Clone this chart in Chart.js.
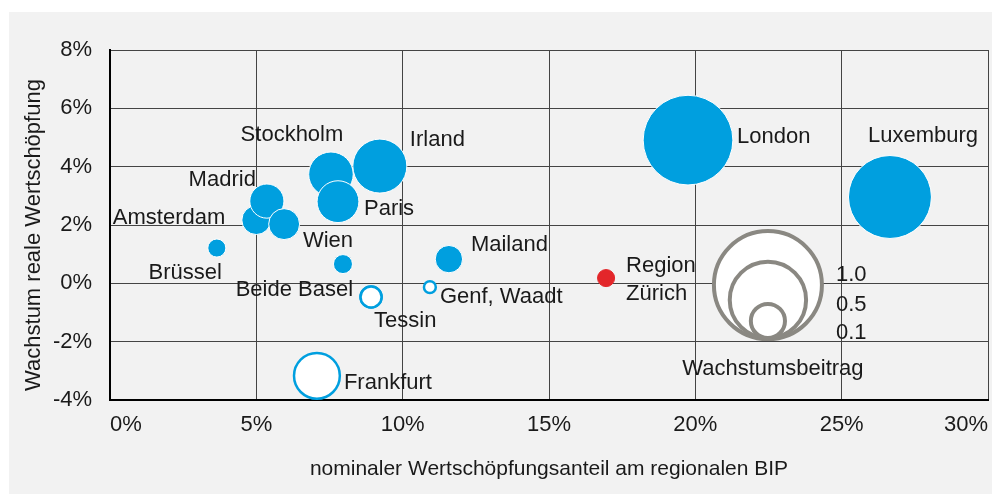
<!DOCTYPE html>
<html lang="de">
<head>
<meta charset="UTF-8">
<title>Wachstum und Wertschöpfungsanteil</title>
<script src="https://cdn.jsdelivr.net/npm/chart.js"></script>
<style>
  html, body { margin: 0; padding: 0; background: #fff; }
  #wrap { position: relative; width: 992px; height: 500px; }
</style>
</head>
<body>
<div id="wrap"><canvas id="chart" width="992" height="500"></canvas></div>
<script>
// Werte
const regionen = ['Brüssel', 'Amsterdam', 'Madrid', '', 'Stockholm', 'Paris', 'Irland', 'Wien',
  'Beide Basel', 'Tessin', 'Frankfurt', 'Genf, Waadt', 'Mailand', 'Region Zürich', 'London', 'Luxemburg'];
const anteil   = [3.65, 5.0, 5.36, 5.95, 7.55, 7.79, 9.22, 7.96, 8.92, 8.92, 7.07, 10.93, 11.58, 16.95, 19.75, 26.65];
const wachstum = [1.21, 2.17, 2.82, 2.03, 3.74, 2.80, 4.02, 0.66, -0.47, -0.47, -3.17, -0.13, 0.83, 0.18, 4.91, 2.96];
const beitrag  = [0.028, 0.072, 0.10, 0.082, 0.17, 0.15, 0.25, 0.031, 0.038, 0.038, 0.18, 0.012, 0.064, 0.025, 0.69, 0.59];
const gruppe   = ['voll', 'voll', 'voll', 'voll', 'voll', 'voll', 'voll', 'voll',
  'leer', 'leer', 'leer', 'leer', 'voll', 'zh', 'voll', 'voll'];

const legendeWerte = [1.0, 0.5, 0.1];
const legendeTexte = ['1.0', '0.5', '0.1'];
const legendeX = 22.48;
const legendeY = [-0.06, -0.57, -1.29];

const xTicks = [0, 5, 10, 15, 20, 25, 30];
const yTicks = [-4, -2, 0, 2, 4, 6, 8];

// Beschriftungen: Versatz zum Blasenmittelpunkt
const labelPos = {
  'Stockholm': { dx: -39, dy: -39, align: 'center' },
  'Irland': { dx: 30, dy: -26, align: 'left' },
  'Madrid': { dx: -11, dy: -21, align: 'right' },
  'Amsterdam': { dx: -31, dy: -2, align: 'right' },
  'Brüssel': { dx: 5, dy: 25, align: 'right' },
  'Paris': { dx: 26, dy: 7, align: 'left' },
  'Wien': { dx: -15, dy: -23, align: 'center' },
  'Beide Basel': { dx: -18, dy: -7, align: 'right' },
  'Tessin': { dx: 3, dy: 24, align: 'left' },
  'Genf, Waadt': { dx: 10, dy: 10, align: 'left' },
  'Mailand': { dx: 22, dy: -14, align: 'left' },
  'Region Zürich': { dx: 20, dy: 2, align: 'left', lines: ['Region', 'Zürich'] },
  'Frankfurt': { dx: 27, dy: 7, align: 'left' },
  'London': { dx: 49, dy: -3, align: 'left' },
  'Luxemburg': { dx: 33, dy: -61, align: 'center' },
  '1.0': { dx: 68, dy: -10, align: 'left' },
  '0.5': { dx: 68, dy: 5, align: 'left' },
  '0.1': { dx: 68, dy: 12, align: 'left' }
};

const FONT = "'Liberation Sans', Arial, Helvetica, sans-serif";
const BLAU = '#009fdf';
const ROT = '#e3262a';
const GRAU = '#8a8882';
const radius = v => 54 * Math.sqrt(v);

function punkte(g) {
  const out = [];
  regionen.forEach((name, i) => {
    if (gruppe[i] === g) out.push({ x: anteil[i], y: wachstum[i], r: radius(beitrag[i]), name: name });
  });
  return out;
}

const legendePunkte = legendeWerte.map((v, i) => ({ x: legendeX, y: legendeY[i], r: radius(v), name: legendeTexte[i] }));

const panel = {
  id: 'panel',
  beforeDraw(chart) {
    const ctx = chart.ctx;
    ctx.save();
    ctx.fillStyle = '#fff';
    ctx.fillRect(0, 0, chart.width, chart.height);
    ctx.fillStyle = '#f2f2f2';
    ctx.fillRect(9, 12, chart.width - 9, 482);
    // y-Achsentitel, etwas unter der Mitte der Achse
    ctx.translate(34, 235);
    ctx.rotate(-Math.PI / 2);
    ctx.font = '22px ' + FONT;
    ctx.fillStyle = '#1a1a1a';
    ctx.textAlign = 'center';
    ctx.textBaseline = 'middle';
    ctx.fillText('Wachstum reale Wertschöpfung', 0, 0);
    ctx.restore();
  }
};

const beschriftung = {
  id: 'beschriftung',
  afterDatasetsDraw(chart) {
    const ctx = chart.ctx;
    ctx.save();
    ctx.font = '22px ' + FONT;
    ctx.fillStyle = '#1a1a1a';
    ctx.textBaseline = 'middle';
    chart.data.datasets.forEach((ds, di) => {
      const meta = chart.getDatasetMeta(di);
      ds.data.forEach((p, i) => {
        const pos = labelPos[p.name];
        if (!pos) return;
        const el = meta.data[i];
        const lines = pos.lines || [p.name];
        ctx.textAlign = pos.align;
        lines.forEach((t, k) => {
          const y = el.y + pos.dy + (k - (lines.length - 1) / 2) * 28;
          ctx.fillText(t, el.x + pos.dx, y);
        });
      });
      if (ds.id === 'legende') {
        const klein = meta.data[meta.data.length - 1];
        ctx.textAlign = 'center';
        ctx.fillText('Wachstumsbeitrag', klein.x + 5, klein.y + 48);
      }
    });
    ctx.restore();
  }
};

// keine Zusatzränder für Randbeschriftungen
function ohneRand(s) {
  s.paddingLeft = 0; s.paddingRight = 0; s.paddingTop = 0; s.paddingBottom = 0;
}

new Chart(document.getElementById('chart'), {
  type: 'bubble',
  data: {
    datasets: [
      { id: 'legende', data: legendePunkte, backgroundColor: '#fff', borderColor: GRAU, borderWidth: 4, clip: false },
      { data: punkte('voll'), backgroundColor: BLAU, borderColor: '#fff', borderWidth: 1, clip: false },
      { data: punkte('leer'), backgroundColor: '#fff', borderColor: BLAU, borderWidth: 2.5, clip: false },
      { data: punkte('zh'), backgroundColor: ROT, borderColor: ROT, borderWidth: 1, clip: false }
    ]
  },
  options: {
    responsive: false,
    animation: false,
    events: [],
    layout: { autoPadding: false, padding: { top: 50, right: 4, left: 0, bottom: 0 } },
    plugins: { legend: { display: false }, tooltip: { enabled: false } },
    scales: {
      x: {
        type: 'linear', min: 0, max: 30,
        afterBuildTicks: s => { s.ticks = xTicks.map(v => ({ value: v })); },
        afterFit: s => { s.height = 100; ohneRand(s); },
        ticks: { callback: v => v + '%', color: '#1a1a1a', font: { family: FONT, size: 22 }, padding: 12, align: 'inner' },
        grid: { color: '#444', lineWidth: 1, drawTicks: false },
        border: { display: true, color: '#000', width: 2 },
        title: { display: true, text: 'nominaler Wertschöpfungsanteil am regionalen BIP', color: '#1a1a1a',
          font: { family: FONT, size: 21 }, padding: { bottom: 18 } }
      },
      y: {
        type: 'linear', min: -4, max: 8,
        afterBuildTicks: s => { s.ticks = yTicks.map(v => ({ value: v })); },
        afterFit: s => { s.width = 110; ohneRand(s); },
        ticks: { callback: v => v + '%', color: '#1a1a1a', font: { family: FONT, size: 22 }, padding: 18 },
        grid: { color: '#444', lineWidth: 1, drawTicks: false },
        border: { display: true, color: '#000', width: 2 }
      }
    }
  },
  plugins: [panel, beschriftung]
});
</script>
</body>
</html>
